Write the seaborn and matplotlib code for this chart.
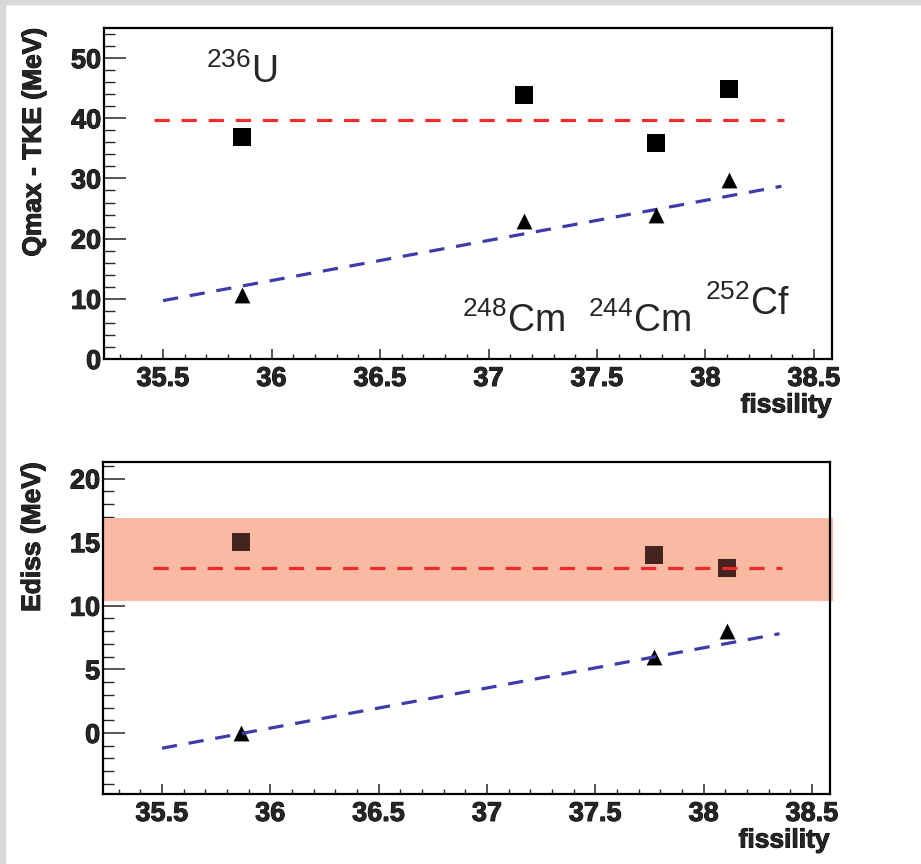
import matplotlib
matplotlib.use('Agg')
import matplotlib.pyplot as plt
import matplotlib.patheffects as pe
import seaborn as sns
from matplotlib.ticker import MultipleLocator, FormatStrFormatter
from matplotlib.patches import Rectangle

# datos
fis_top = [35.864, 37.164, 37.772, 38.108]
qmax_sq = [36.9, 43.9, 35.9, 44.9]
qmax_tri = [10.7, 23.0, 23.9, 29.7]

fis_bot = [35.864, 37.772, 38.108]
ediss_sq = [15.0, 14.0, 13.0]
ediss_tri = [0.0, 6.0, 8.0]

# rectas de ajuste (extremos)
fit_x = [35.5, 38.35]
mean_x = [35.46, 38.36]
qmax_mean = [39.7, 39.7]
qmax_fit = [9.7, 28.7]
ediss_mean = [13.0, 13.0]
ediss_fit = [-1.2, 7.8]
ediss_band = [10.4, 16.9]

isotopes = ['$^{236}$U', '$^{248}$Cm', '$^{244}$Cm', '$^{252}$Cf']

sns.set_style('ticks')
plt.rcParams['font.family'] = ['Liberation Sans', 'DejaVu Sans']
plt.rcParams['mathtext.fontset'] = 'custom'
plt.rcParams['mathtext.rm'] = 'Liberation Sans'
plt.rcParams['mathtext.it'] = 'Liberation Sans:italic'
plt.rcParams['mathtext.bf'] = 'Liberation Sans:bold'
plt.rcParams['lines.scale_dashes'] = False

red = '#ee2a2a'
blue = '#3c3cab'
dash = (0, (11, 8.5))
thick = [pe.withStroke(linewidth=0.7, foreground='black')]

fig = plt.figure(figsize=(9.21, 8.64), dpi=100)
fig.patch.set_facecolor('white')
# borde gris de la captura
fig.patches.append(Rectangle((0, 0), 5 / 921, 1, transform=fig.transFigure, color='#d8d8d8', zorder=0))
fig.patches.append(Rectangle((0, 1 - 4 / 864), 1, 4 / 864, transform=fig.transFigure, color='#d8d8d8', zorder=0))

ax1 = fig.add_axes([104 / 921, 1 - 359 / 864, 728 / 921, 331 / 864])
ax2 = fig.add_axes([103 / 921, 1 - 794 / 864, 727 / 921, 332 / 864])


def style_axis(ax, ymaj, ymin):
    ax.set_xlim(35.228, 38.583)
    ax.xaxis.set_major_locator(MultipleLocator(0.5))
    ax.xaxis.set_minor_locator(MultipleLocator(0.1))
    ax.xaxis.set_major_formatter(FormatStrFormatter('%g'))
    ax.yaxis.set_major_locator(MultipleLocator(ymaj))
    ax.yaxis.set_minor_locator(MultipleLocator(ymin))
    ax.yaxis.set_major_formatter(FormatStrFormatter('%g'))
    ax.tick_params(axis='x', which='major', direction='in', length=7.5, width=1.1, pad=5,
                   labelsize=19.5)
    ax.tick_params(axis='x', which='minor', direction='in', length=3.8, width=1.0)
    ax.tick_params(axis='y', which='major', direction='in', length=16, width=1.1, pad=2,
                   labelsize=19.5)
    ax.tick_params(axis='y', which='minor', direction='in', length=8, width=1.0)
    for lab in ax.get_xticklabels() + ax.get_yticklabels():
        lab.set_fontweight('bold')
        lab.set_path_effects(thick)
    for s in ax.spines.values():
        s.set_linewidth(1.6)
        s.set_color('black')
    ax.set_xlabel('fissility', loc='right', fontsize=19, fontweight='bold', path_effects=thick)
    ax.xaxis.set_label_coords(1.0, -0.14)
    ax.xaxis.label.set_va('center')


# panel superior
sns.lineplot(x=mean_x, y=qmax_mean, ax=ax1, color=red, lw=2.3, linestyle=dash, zorder=2)
sns.lineplot(x=fit_x, y=qmax_fit, ax=ax1, color=blue, lw=2.3, linestyle=dash, zorder=2)
sns.scatterplot(x=fis_top, y=qmax_sq, ax=ax1, marker='s', s=160, color='black', linewidth=0, zorder=3)
sns.scatterplot(x=fis_top, y=qmax_tri, ax=ax1, marker='^', s=130, color='black', linewidth=0, zorder=3)
ax1.set_ylim(0, 55)
style_axis(ax1, 10, 2)
ax1.set_ylabel('Qmax - TKE (MeV)', loc='top', fontsize=19, fontweight='bold', path_effects=thick)
ax1.yaxis.set_label_coords(-0.08, 1.0)

ax1.text(35.70, 45.8, isotopes[0], fontsize=27)
ax1.text(36.88, 4.5, isotopes[1], fontsize=27)
ax1.text(37.46, 4.5, isotopes[2], fontsize=27)
ax1.text(37.997, 7.3, isotopes[3], fontsize=27)

# panel inferior
ax2.axhspan(ediss_band[0], ediss_band[1], xmin=0, xmax=1.004, color='#f9b9a3', lw=0, zorder=1,
            clip_on=False)
sns.scatterplot(x=fis_bot, y=ediss_sq, ax=ax2, marker='s', s=160, color='#45231e', linewidth=0, zorder=3)
sns.scatterplot(x=fis_bot, y=ediss_tri, ax=ax2, marker='^', s=130, color='black', linewidth=0, zorder=3)
sns.lineplot(x=mean_x, y=ediss_mean, ax=ax2, color=red, lw=2.3, linestyle=dash, zorder=4)
sns.lineplot(x=fit_x, y=ediss_fit, ax=ax2, color=blue, lw=2.3, linestyle=dash, zorder=4)
ax2.set_ylim(-4.8, 21.3)
style_axis(ax2, 5, 1)
ax2.set_ylabel('Ediss (MeV)', loc='top', fontsize=19, fontweight='bold', path_effects=thick)
ax2.yaxis.set_label_coords(-0.08, 1.0)

fig.savefig('out.png', dpi=100)
